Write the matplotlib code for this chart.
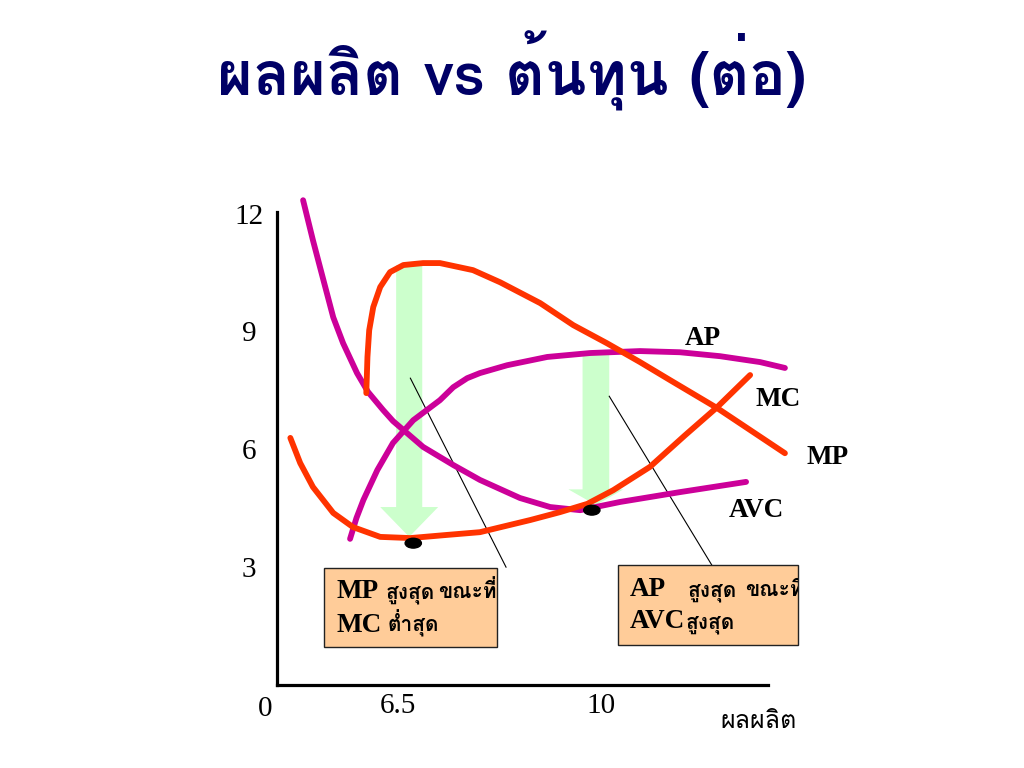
import matplotlib
matplotlib.use("Agg")
import matplotlib.pyplot as plt
from matplotlib import font_manager
from matplotlib.ft2font import FT2Font
from matplotlib.patches import FancyArrow, Ellipse, Rectangle


def find_thai_font():
    # pick the first installed family that has Thai glyphs
    for f in font_manager.fontManager.ttflist:
        try:
            cmap = FT2Font(f.fname).get_charmap()
        except Exception:
            continue
        if 0x0E1C in cmap and 0x0E34 in cmap:
            return f.name
    return "DejaVu Sans"


thai = find_thai_font()
THAI = [thai, "DejaVu Sans"]
SERIF = ["Liberation Serif", "DejaVu Serif"]

# ---- data (quantity, cost) ----
avc_x = [4.86, 5.03, 5.21, 5.38, 5.55, 5.79, 5.98, 6.24, 6.41, 6.93, 7.45, 7.91, 8.60, 9.12, 9.64, 10.33, 11.36, 12.50]
avc_y = [12.34, 11.32, 10.31, 9.36, 8.70, 7.94, 7.46, 7.00, 6.72, 6.06, 5.60, 5.22, 4.76, 4.53, 4.45, 4.66, 4.91, 5.17]

ap_x = [5.67, 5.78, 5.90, 6.14, 6.41, 6.76, 7.22, 7.45, 7.69, 7.91, 8.38, 9.07, 9.81, 10.67, 11.36, 12.05, 12.74, 13.17]
ap_y = [3.72, 4.25, 4.71, 5.47, 6.16, 6.74, 7.25, 7.58, 7.81, 7.94, 8.14, 8.35, 8.45, 8.50, 8.47, 8.37, 8.22, 8.07]

mp_x = [5.95, 5.97, 6.00, 6.07, 6.19, 6.36, 6.59, 6.93, 7.22, 7.79, 8.26, 8.95, 9.52, 10.10, 10.67, 11.19, 12.00, 12.57, 13.17]
mp_y = [7.43, 8.35, 9.03, 9.62, 10.13, 10.51, 10.69, 10.74, 10.74, 10.56, 10.25, 9.72, 9.16, 8.70, 8.22, 7.76, 7.05, 6.49, 5.90]

mc_x = [4.64, 4.81, 5.03, 5.38, 5.72, 6.19, 6.71, 7.34, 7.91, 8.78, 9.29, 9.76, 10.21, 10.84, 11.45, 12.00, 12.57]
mc_y = [6.29, 5.65, 5.04, 4.38, 4.02, 3.77, 3.74, 3.82, 3.89, 4.20, 4.40, 4.61, 4.96, 5.55, 6.36, 7.07, 7.89]

ytick_vals = [3, 6, 9, 12]
xtick_vals = [6.5, 10]
xtick_labels = ["6.5", "10"]

mp_peak = (6.76, 3.61)    # dot under the MP arrow (min MC)
ap_peak = (9.84, 4.45)    # dot under the AP arrow (min AVC)

MAGENTA = "#CC0099"
RED = "#FF3300"
GREEN = "#CCFFCC"
PEACH = "#FFCC99"

fig = plt.figure(figsize=(10.24, 7.68), dpi=100)
ax = fig.add_axes([277 / 1024, 83 / 768, (800 - 277) / 1024, (685 - 190) / 768])
ax.set_xlim(4.41, 13.43)
ax.set_ylim(0, 12.6)

for s in ["top", "right"]:
    ax.spines[s].set_visible(False)
ax.spines["left"].set_bounds(0, 12.05)
ax.spines["bottom"].set_bounds(4.41, 12.88)
for s in ["left", "bottom"]:
    ax.spines[s].set_linewidth(2.3)
    ax.spines[s].set_color("black")

ax.set_yticks(ytick_vals)
ax.set_yticklabels([str(v) for v in ytick_vals], family=SERIF, fontsize=21)
for t in ax.get_yticklabels():
    t.set_horizontalalignment("center")
ax.tick_params(axis="y", length=0, pad=20)
ax.set_xticks(xtick_vals)
ax.set_xticklabels(xtick_labels, family=SERIF, fontsize=21)
ax.tick_params(axis="x", length=0, pad=6)
ax.text(4.21, -0.6, "0", family=SERIF, fontsize=21, ha="center", va="center")
ax.text(12.71, -0.94, "ผลผลิต", family=THAI, fontsize=18, ha="center", va="center")

# green arrows
ax.add_patch(FancyArrow(6.69, 10.69, 0, 3.77 - 10.69, width=0.45, head_width=1.0,
                        head_length=0.76, length_includes_head=True,
                        color=GREEN, lw=0, zorder=1))
ax.add_patch(FancyArrow(9.91, 8.40, 0, 4.58 - 8.40, width=0.46, head_width=0.95,
                        head_length=0.40, length_includes_head=True,
                        color=GREEN, lw=0, zorder=1))

# curves
kw = dict(lw=4.2, solid_capstyle="round", solid_joinstyle="round", clip_on=False, zorder=3)
ax.plot(avc_x, avc_y, color=MAGENTA, **kw)
ax.plot(ap_x, ap_y, color=MAGENTA, **kw)
ax.plot(mp_x, mp_y, color=RED, **kw)
ax.plot(mc_x, mc_y, color=RED, **kw)

# dots
for p in [mp_peak, ap_peak]:
    ax.add_patch(Ellipse(p, 0.28, 0.25, color="black", zorder=4))

# callout lines
ax.plot([6.71, 8.36], [7.81, 3.00], color="black", lw=0.8, zorder=2)
ax.plot([10.14, 11.91], [7.35, 3.05], color="black", lw=0.8, zorder=2)

# boxes
box1 = Rectangle((5.22, 0.97), 8.21 - 5.22, 2.98 - 0.97, facecolor=PEACH,
                 edgecolor="#222222", lw=1.0, zorder=5)
box2 = Rectangle((10.29, 1.02), 13.40 - 10.29, 3.05 - 1.02, facecolor=PEACH,
                 edgecolor="#222222", lw=1.0, zorder=5, clip_on=False)
ax.add_patch(box1)
ax.add_patch(box2)

lab = dict(family=SERIF, fontsize=19.5, weight="bold", va="baseline", zorder=6)
th = dict(family=THAI, fontsize=15, weight="bold", va="baseline", zorder=6)
ax.text(5.43, 2.21, "MP", **lab)
ax.text(6.28, 2.21, "สูงสุด", **th)
ax.text(7.19, 2.21, "ขณะที่", **th)
ax.text(5.43, 1.35, "MC", **lab)
ax.text(6.31, 1.35, "ต่ำสุด", **th)

ax.text(10.50, 2.26, "AP", **lab)
ax.text(11.50, 2.26, "สูงสุด", **th)
t = ax.text(12.48, 2.26, "ขณะที่", **th)
t.set_clip_on(True)
t.set_clip_path(box2)
ax.text(10.50, 1.45, "AVC", **lab)
ax.text(11.45, 1.45, "สูงสุด", **th)

# curve names
cl = dict(family=SERIF, fontsize=19.5, weight="bold", ha="center", va="center")
ax.text(11.76, 8.83, "AP", **cl)
ax.text(13.05, 7.28, "MC", **cl)
ax.text(13.90, 5.78, "MP", **cl)
ax.text(12.67, 4.43, "AVC", **cl)

fig.text(0.5, 1 - 71 / 768, "ผลผลิต vs ต้นทุน (ต่อ)", family=THAI, fontsize=44,
         weight="bold", color="#000066", ha="center", va="center")

fig.savefig("out.png", dpi=100)
